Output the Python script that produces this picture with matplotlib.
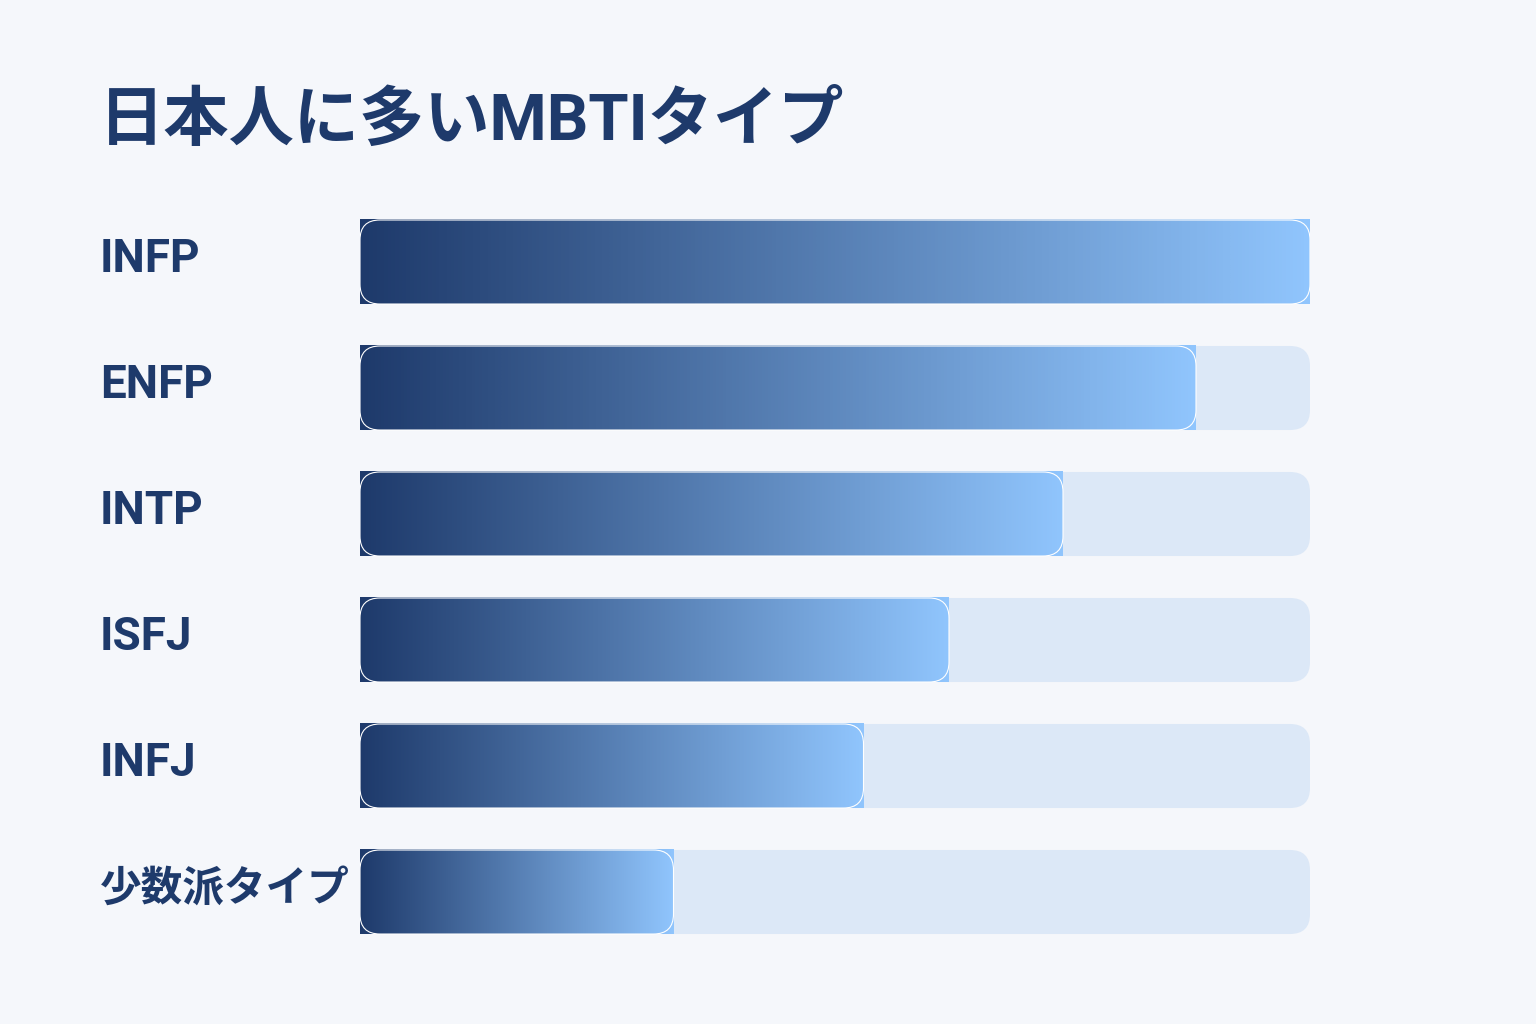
import numpy as np
import matplotlib
matplotlib.use("Agg")
import matplotlib.pyplot as plt
from matplotlib import transforms
from matplotlib.colors import LinearSegmentedColormap
from matplotlib.patches import FancyBboxPatch

# 英字は Roboto、日本語は Noto Sans CJK JP
plt.rcParams["font.family"] = ["Roboto", "Noto Sans CJK JP", "DejaVu Sans"]

# ---------------------------------------------------------
# データ
# ---------------------------------------------------------
title = "日本人に多いMBTIタイプ"
types = ["INFP", "ENFP", "INTP", "ISFJ", "INFJ", "少数派タイプ"]
values = [100, 88, 74, 62, 53, 33]   # 相対値 (%)
max_value = 100

# ---------------------------------------------------------
# 色
# ---------------------------------------------------------
bg_color = "#f5f7fb"
text_color = "#1e3a6b"
track_color = "#dce8f7"
grad = LinearSegmentedColormap.from_list("bar", ["#1e3a6b", "#90c5fd"])

W, H = 1536, 1024
fig = plt.figure(figsize=(W / 100, H / 100), dpi=100)
fig.patch.set_facecolor(bg_color)

# バー領域 (ピクセル指定)
left_px, right_px = 360, 1310
top_px, bottom_px = 199, 955
ax = fig.add_axes([left_px / W, 1 - bottom_px / H,
                   (right_px - left_px) / W, (bottom_px - top_px) / H])
ax.set_facecolor("none")
n = len(types)
ax.axis("off")

bar_h = 0.667
# 角丸の縦横比補正
x_per_px = max_value / (right_px - left_px)
y_per_px = n / (bottom_px - top_px)
aspect = y_per_px / x_per_px
radius = 20 * x_per_px

gradient = np.linspace(0, 1, 256).reshape(1, -1)

for i, (name, v) in enumerate(zip(types, values)):
    y0 = i - bar_h / 2
    # 背景トラック
    track = FancyBboxPatch((0, y0), max_value, bar_h,
                           boxstyle=f"round,pad=0,rounding_size={radius}",
                           mutation_aspect=aspect,
                           facecolor=track_color, edgecolor="none", zorder=1)
    ax.add_patch(track)

    # グラデーションバー
    ax.imshow(gradient, cmap=grad, aspect="auto",
              extent=[0, v, i + bar_h / 2, y0], zorder=2,
              interpolation="bilinear")

    # 角丸の白い縁
    outline = FancyBboxPatch((0, y0), v, bar_h,
                             boxstyle=f"round,pad=0,rounding_size={radius}",
                             mutation_aspect=aspect,
                             facecolor="none", edgecolor="white",
                             linewidth=0.8, zorder=3)
    ax.add_patch(outline)

# imshow が軸範囲を変えるので最後に設定
ax.set_xlim(0, max_value)
ax.set_ylim(n - 0.5, -0.5)

# ラベル (日本語ラベルは少し小さめ)
label_tr = transforms.blended_transform_factory(fig.transFigure, ax.transData)
for i, name in enumerate(types):
    size = 33 if name.isascii() else 30
    fig.text(100 / W, i - 0.02, name, transform=label_tr,
             fontsize=size, fontweight="bold", color=text_color,
             ha="left", va="center")

# タイトル
fig.text(99 / W, 1 - 140 / H, title, fontsize=47, fontweight="bold",
         color=text_color, ha="left", va="baseline")

fig.savefig("out.png", dpi=100, facecolor=bg_color)
